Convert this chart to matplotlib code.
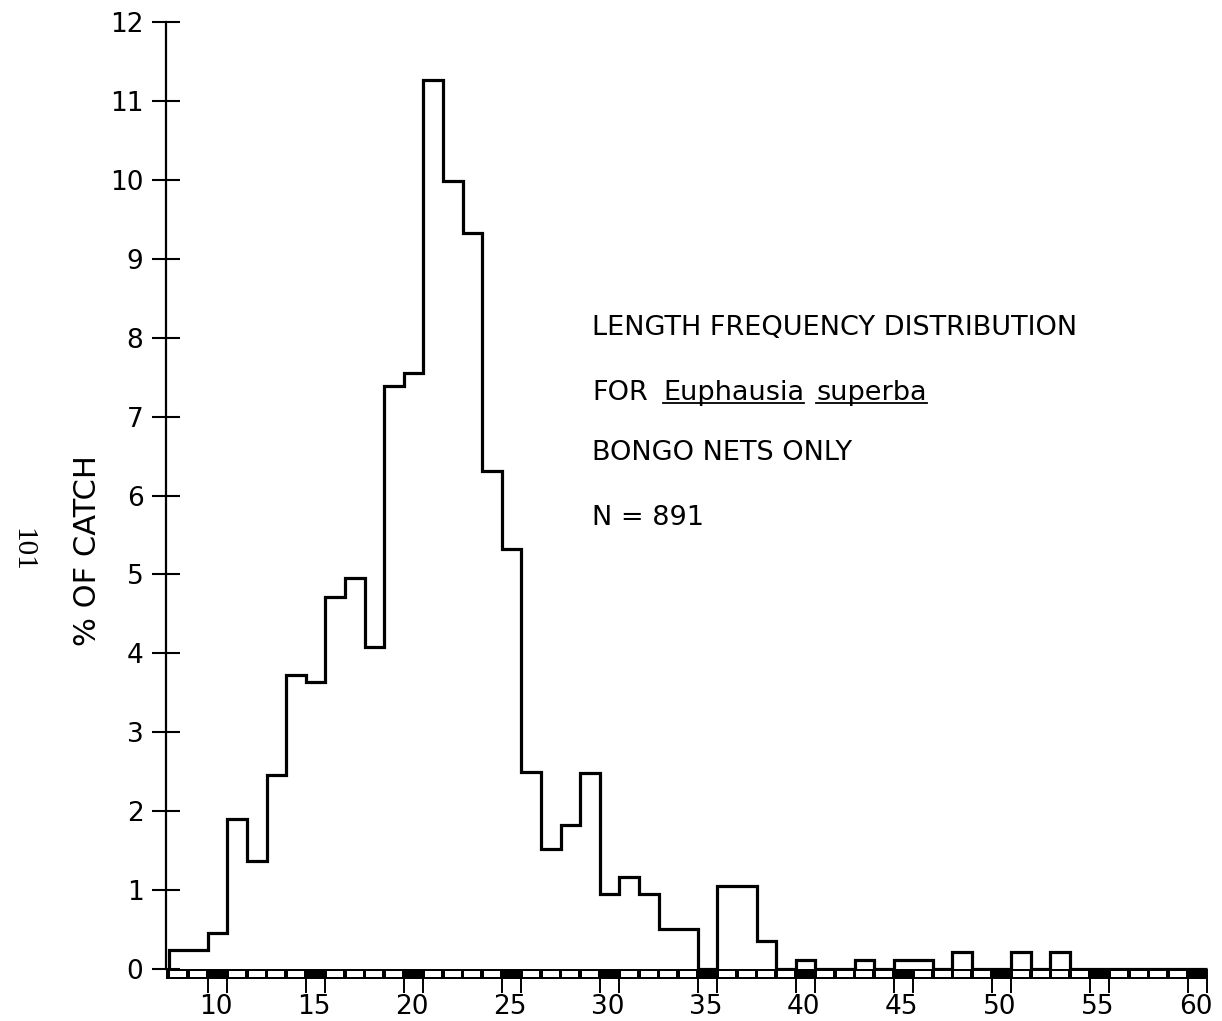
import matplotlib.pyplot as plt
from matplotlib.lines import Line2D

plt.rcParams['font.family'] = ['DejaVu Sans']

# length class (mm, 1 mm classes) and % of catch
length_mm = list(range(8, 61))
pct_catch = [0.24, 0.24, 0.45, 1.90, 1.37, 2.46, 3.73, 3.64, 4.72, 4.96,
             4.08, 7.39, 7.55, 11.26, 9.99, 9.33, 6.31, 5.32, 2.50, 1.52,
             1.83, 2.48, 0.95, 1.17, 0.95, 0.51, 0.51, 0.0, 1.05, 1.05,
             0.36, 0.0, 0.12, 0.0, 0.0, 0.12, 0.0, 0.12, 0.12, 0.0,
             0.22, 0.0, 0.0, 0.22, 0.0, 0.22, 0.0, 0.0, 0.0, 0.0,
             0.0, 0.0, 0.0]
x_labels = ['10', '15', '20', '25', '30', '35', '40', '45', '50', '55', '60']
y_ticks = list(range(0, 13))

W, H = 1222, 1021
fig = plt.figure(figsize=(W / 100, H / 100), dpi=100)
ax = fig.add_axes([165.6 / W, 52 / H, 1045.6 / W, 947 / H])

xmin, xmax = 7.85, 61.2
ax.set_xlim(xmin, xmax)
ax.set_ylim(0, 12)

edges = length_mm + [length_mm[-1] + 1]
ax.stairs(pct_catch, edges, color='black', linewidth=2.3, zorder=4)

# checkered length scale under the axis
bar_h = 0.127
bg = ax.bar([xmin], [bar_h], width=edges[-1] - xmin, bottom=-bar_h,
            align='edge', color='black', linewidth=0, zorder=5)
white_x = [n + 0.1 for n in length_mm if n % 5 != 0]
wh = ax.bar(white_x, [0.066] * len(white_x), width=0.8, bottom=-0.097,
            align='edge', color='white', linewidth=0, zorder=6)
for p in list(bg) + list(wh):
    p.set_clip_on(False)

# tick marks at both edges of each black (5 mm) block
major = []
for lab in x_labels:
    major += [int(lab), int(lab) + 1]
ax.set_xticks(major)
ax.set_xticklabels([''] * len(major))
ax.set_xticks([int(l) + 0.4 for l in x_labels], minor=True)
ax.set_xticklabels(x_labels, minor=True, fontsize=19)
ax.tick_params(axis='x', which='major', direction='out', length=17.5,
               width=1.4, color='black')
ax.tick_params(axis='x', which='minor', length=0, pad=18)

ax.set_yticks(y_ticks)
ax.set_yticklabels([str(v) for v in y_ticks], fontsize=19)
ax.tick_params(axis='y', direction='inout', length=20, width=1.5, pad=6)

for s in ['top', 'right', 'bottom']:
    ax.spines[s].set_visible(False)
ax.spines['left'].set_linewidth(1.6)

# y label and page number
fig.text(88 / W, 1 - 551 / H, '% OF CATCH', rotation=90, fontsize=22,
         ha='center', va='center')
fig.text(22 / W, 1 - 550 / H, '101', rotation=270, fontsize=21,
         family=['Liberation Serif'], ha='center', va='center')

# annotation block
def ftext(x, y, s):
    return fig.text(x / W, 1 - y / H, s, fontsize=19.5, ha='left',
                    va='baseline')

ftext(592, 335, 'LENGTH FREQUENCY DISTRIBUTION')
ftext(592, 400, 'FOR')
ftext(592, 460, 'BONGO NETS ONLY')
ftext(592, 525, 'N = 891')

t1 = ftext(663, 400, 'Euphausia')
fig.canvas.draw()
r = fig.canvas.get_renderer()
b1 = t1.get_window_extent(r)
t2 = ftext(b1.x1 + 12, 400, 'superba')
b2 = t2.get_window_extent(r)
yy = 1 - 403 / H
for bb in (b1, b2):
    fig.add_artist(Line2D([bb.x0 / W, bb.x1 / W], [yy, yy],
                          transform=fig.transFigure, color='black',
                          linewidth=1.3))

fig.savefig('out.png', dpi=100)
